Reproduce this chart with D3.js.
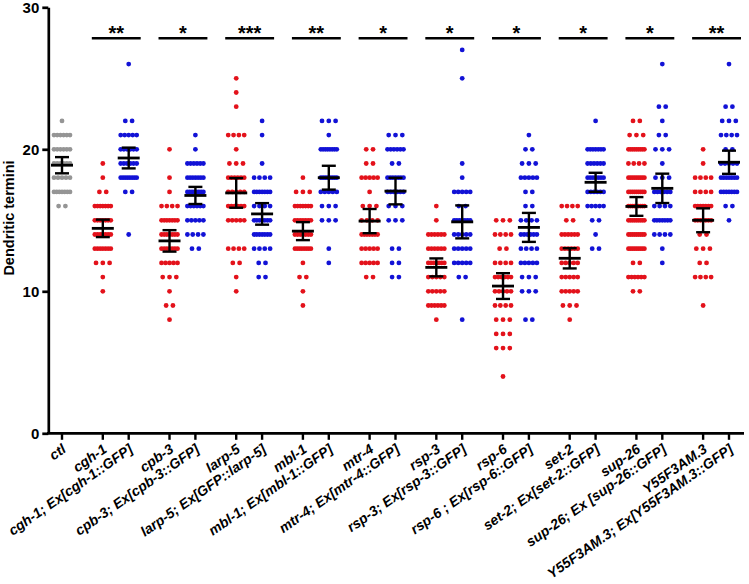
<!DOCTYPE html>
<html><head><meta charset="utf-8">
<script src="https://cdn.jsdelivr.net/npm/d3@7"></script>
<style>body{margin:0;background:#fff}svg{display:block}</style>
</head><body>
<script>
// ---- data ----
const categories = ["ctl",
 "cgh-1","cgh-1; Ex[cgh-1::GFP]",
 "cpb-3","cpb-3; Ex[cpb-3::GFP]",
 "larp-5","larp-5; Ex[GFP::larp-5]",
 "mbl-1","mbl-1; Ex[mbl-1::GFP]",
 "mtr-4","mtr-4; Ex[mtr-4::GFP]",
 "rsp-3","rsp-3; Ex[rsp-3::GFP]",
 "rsp-6","rsp-6 ; Ex[rsp-6::GFP]",
 "set-2","set-2; Ex[set-2::GFP]",
 "sup-26","sup-26; Ex [sup-26::GFP]",
 "Y55F3AM.3","Y55F3AM.3; Ex[Y55F3AM.3::GFP]"];
const groupKind = ["ctl","mut","res","mut","res","mut","res","mut","res","mut","res",
 "mut","res","mut","res","mut","res","mut","res","mut","res"];
// [value, number of animals] per group
const ctlCounts      = [[22,1],[21,6],[20,6],[19,6],[18,5],[17,7],[16,2]];
const cgh1Counts     = [[19,1],[18,1],[17,2],[16,7],[15,7],[14,7],[13,7],[12,3],[11,1],[10,1]];
const cgh1GfpCounts  = [[26,1],[22,2],[21,5],[20,6],[19,6],[18,8],[17,2],[14,1]];
const cpb3Counts     = [[20,1],[18,1],[17,1],[16,4],[15,7],[14,7],[13,7],[12,5],[11,3],[10,1],[9,2],[8,1]];
const cpb3GfpCounts  = [[21,1],[20,1],[19,6],[18,7],[17,8],[16,6],[15,5],[14,4],[13,2]];
const larp5Counts    = [[25,1],[24,1],[23,1],[21,4],[20,1],[19,3],[18,6],[17,5],[16,6],[15,5],[13,4],[12,2],[11,1],[10,1]];
const larp5GfpCounts = [[22,1],[21,1],[19,1],[18,4],[17,7],[16,4],[15,7],[14,7],[13,4],[12,2],[11,2]];
const mbl1Counts     = [[18,1],[17,3],[16,7],[15,7],[14,7],[13,8],[12,1],[11,2],[10,1],[9,1]];
const mbl1GfpCounts  = [[22,3],[21,1],[20,8],[18,8],[17,5],[16,3],[15,3],[13,1],[12,1]];
const mtr4Counts     = [[20,2],[19,2],[18,5],[17,1],[16,3],[15,4],[14,7],[13,5],[12,5],[11,2]];
const mtr4GfpCounts  = [[21,3],[20,6],[19,2],[18,7],[17,6],[16,3],[15,3],[13,2],[12,2],[11,2]];
const rsp3Counts     = [[16,1],[15,1],[14,6],[13,6],[12,7],[11,5],[10,5],[9,6],[8,1]];
const rsp3GfpCounts  = [[27,1],[25,1],[19,1],[18,1],[17,5],[16,2],[15,7],[14,5],[13,5],[12,5],[11,2],[8,1]];
const rsp6Counts     = [[15,3],[14,4],[13,2],[12,4],[11,6],[10,5],[9,4],[8,3],[7,3],[6,3],[4,1]];
const rsp6GfpCounts  = [[21,1],[20,2],[19,3],[18,5],[17,2],[16,2],[15,4],[14,6],[13,4],[12,5],[11,3],[10,3],[8,2]];
const set2Counts     = [[16,4],[15,2],[14,6],[13,6],[12,5],[11,5],[10,5],[9,3],[8,1]];
const set2GfpCounts  = [[22,1],[20,7],[19,6],[18,7],[17,6],[16,5],[15,2],[14,1],[13,2]];
const sup26Counts    = [[22,2],[21,3],[20,9],[19,4],[18,9],[17,9],[16,9],[15,9],[14,9],[13,9],[12,2],[11,6],[10,2]];
const sup26GfpCounts = [[26,1],[23,2],[22,1],[21,2],[20,3],[19,1],[18,3],[17,6],[16,4],[15,7],[14,4],[13,1],[12,1]];
const y55Counts      = [[20,1],[19,1],[18,4],[17,4],[16,7],[15,7],[14,2],[13,3],[12,2],[11,4],[9,1]];
const y55GfpCounts   = [[26,1],[23,2],[22,3],[21,4],[20,2],[19,5],[18,7],[17,7],[16,2],[15,1]];
const groupCounts = [ctlCounts,cgh1Counts,cgh1GfpCounts,cpb3Counts,cpb3GfpCounts,larp5Counts,larp5GfpCounts,
 mbl1Counts,mbl1GfpCounts,mtr4Counts,mtr4GfpCounts,rsp3Counts,rsp3GfpCounts,rsp6Counts,rsp6GfpCounts,
 set2Counts,set2GfpCounts,sup26Counts,sup26GfpCounts,y55Counts,y55GfpCounts];
const significance = ["**","*","***","**","*","*","*","*","*","**"];
const yTicks = [0,10,20,30];
const yTitle = "Dendritic termini";

// ---- layout ----
const W = 749, H = 584;
const colors = {ctl:"#959595", mut:"#e3121b", res:"#1212d6"};
const FONT = "'Liberation Sans', Arial, Helvetica, sans-serif";
const svg = d3.select("body").append("svg").attr("width",W).attr("height",H)
  .attr("font-family",FONT);
svg.append("rect").attr("width",W).attr("height",H).attr("fill","#fff");

const gap = 41/26;
const slot = i => i===0 ? 0 : gap + Math.floor((i-1)/2)*(1+gap) + ((i-1)%2);
const x = d3.scaleLinear().domain([0, slot(categories.length-1)]).range([62, 729]);
const y = d3.scaleLinear().domain([0,30]).range([433.3, 7.3]);
const xAxisY = y(0);

// dots
const r = 2.4;
const spacing = n => n<=1 ? 0 : Math.min(6.8, 16/(n-1));
const dotData = [];
groupCounts.forEach((rows,i)=>{
  rows.forEach(([v,n])=>{
    const s = spacing(n);
    for(let j=0;j<n;j++) dotData.push({i, v, off:(j-(n-1)/2)*s});
  });
});
svg.append("g").selectAll("circle").data(dotData).join("circle")
  .attr("cx",d=>x(slot(d.i))+d.off).attr("cy",d=>y(d.v)).attr("r",r)
  .attr("fill",d=>colors[groupKind[d.i]]);

// mean and 95% CI
const stats = groupCounts.map(rows=>{
  const vals = rows.flatMap(([v,n])=>d3.range(n).map(()=>v));
  const m = d3.mean(vals), sd = d3.deviation(vals), n = vals.length;
  return {m, e: 1.96*sd/Math.sqrt(n)};
});
const eg = svg.append("g").attr("stroke","#000").attr("fill","none");
stats.forEach((s,i)=>{
  const cx = x(slot(i));
  eg.append("line").attr("x1",cx-11).attr("x2",cx+11).attr("y1",y(s.m)).attr("y2",y(s.m)).attr("stroke-width",2.8);
  eg.append("line").attr("x1",cx).attr("x2",cx).attr("y1",y(s.m+s.e)).attr("y2",y(s.m-s.e)).attr("stroke-width",2.4);
  [s.m+s.e, s.m-s.e].forEach(v=>eg.append("line").attr("x1",cx-7).attr("x2",cx+7)
     .attr("y1",y(v)).attr("y2",y(v)).attr("stroke-width",2.4));
});

// significance bars
significance.forEach((t,k)=>{
  const x1 = x(slot(1+2*k))-11, x2 = x(slot(2+2*k))+12;
  svg.append("line").attr("x1",x1).attr("x2",x2).attr("y1",38.3).attr("y2",38.3)
    .attr("stroke","#000").attr("stroke-width",2.6);
  svg.append("text").attr("x",(x1+x2)/2).attr("y",39.5).attr("text-anchor","middle")
    .attr("font-size",20).attr("font-weight","bold").text(t);
});

// y axis
const yAxis = svg.append("g").attr("transform","translate(48.3,0)")
  .call(d3.axisLeft(y).tickValues(yTicks).tickSize(6).tickSizeOuter(0).tickPadding(3));
yAxis.select(".domain").attr("stroke","#000").attr("stroke-width",2.7);
yAxis.selectAll(".tick line").attr("stroke","#000").attr("stroke-width",2.7);
yAxis.selectAll(".tick text").attr("font-size",15).attr("font-weight","bold")
  .attr("font-family",FONT).attr("fill","#000");

svg.append("text").attr("transform","translate(14,218) rotate(-90)")
  .attr("text-anchor","middle").attr("font-size",14.5).attr("font-weight","bold").text(yTitle);

// x axis
const xg = svg.append("g");
xg.append("line").attr("x1",47).attr("x2",744).attr("y1",xAxisY).attr("y2",xAxisY)
  .attr("stroke","#000").attr("stroke-width",2.7);
categories.forEach((c,i)=>{
  const cx = x(slot(i));
  xg.append("line").attr("x1",cx).attr("x2",cx).attr("y1",xAxisY).attr("y2",xAxisY+6.5)
    .attr("stroke","#000").attr("stroke-width",2.4);
  xg.append("text").attr("transform",`translate(${cx+5},${xAxisY+18}) rotate(-35)`)
    .attr("text-anchor","end").attr("font-size",14).attr("font-weight","bold")
    .attr("font-style","italic").text(c);
});
</script>
</body></html>
